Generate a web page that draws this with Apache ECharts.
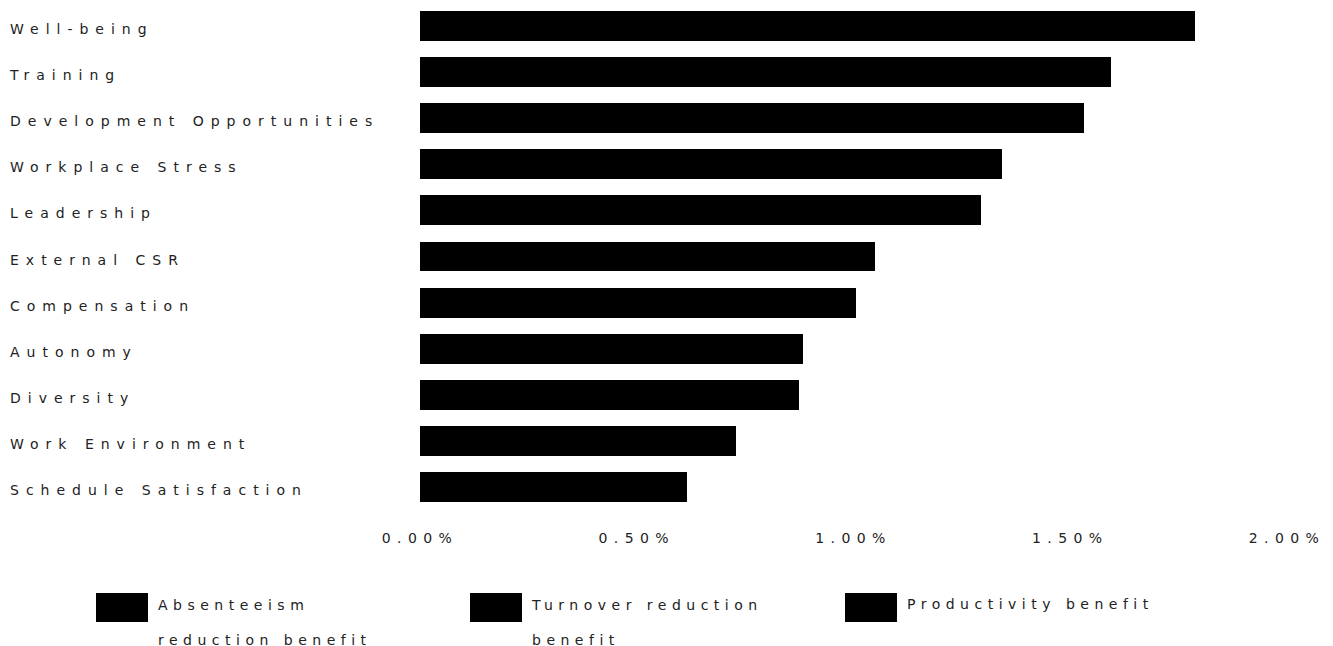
<!DOCTYPE html>
<html>
<head>
<meta charset="utf-8">
<script src="https://cdn.jsdelivr.net/npm/echarts@6/dist/echarts.min.js"></script>
<style>
html,body{margin:0;padding:0;background:#fff;}
#chart{width:1333px;height:646px;}
#chart text{letter-spacing:7px;}
#chart path{shape-rendering:crispEdges;}
</style>
</head>
<body>
<div id="chart"></div>
<script>
const categories = ["Well-being","Training","Development Opportunities","Workplace Stress","Leadership","External CSR","Compensation","Autonomy","Diversity","Work Environment","Schedule Satisfaction"];
const absenteeism = [0.35,0.30,0.28,0.33,0.24,0.18,0.16,0.17,0.15,0.14,0.12];
const turnover    = [0.52,0.48,0.47,0.38,0.40,0.33,0.34,0.26,0.27,0.22,0.19];
const productivity= [0.918,0.814,0.782,0.633,0.654,0.54,0.506,0.454,0.454,0.369,0.306];
const seriesNames = ["Absenteeism reduction benefit","Turnover reduction benefit","Productivity benefit"];
const legendLines = [["Absenteeism","reduction benefit"],["Turnover reduction","benefit"],["Productivity benefit"]];
const xTicks = [0,0.5,1,1.5,2];

const chart = echarts.init(document.getElementById('chart'), null, {renderer:'svg'});
const font = 'DejaVu Sans';
const txt = '#222';
const legendLeft = [96,470,845];
const values = [absenteeism, turnover, productivity];
const base = {fontFamily:font,fontSize:14,color:txt};
const legends = seriesNames.map((n,i)=>{
  const lines = legendLines[i];
  const two = lines.length > 1;
  return {
    data:[n], left:legendLeft[i], top:593, orient:'horizontal', padding:0,
    itemWidth:52, itemHeight:29, icon:'rect', selectedMode:false,
    itemStyle:{borderWidth:0},
    formatter: ()=> two ? ('{a|'+lines[0]+'}\n{b|'+lines[1]+'}') : ('{c|'+lines[0]+'}'),
    textStyle:Object.assign({}, base, {rich:{
      a:Object.assign({}, base, {padding:[29,0,0,5]}),
      b:Object.assign({}, base, {padding:[21,0,0,5]}),
      c:Object.assign({}, base, {padding:[0,0,7,5]})
    }})
  };
});
chart.setOption({
  animation:false,
  legend: legends,
  grid:{left:420,right:46,top:3,bottom:136,containLabel:false},
  xAxis:{type:'value',min:xTicks[0],max:xTicks[xTicks.length-1],interval:0.5,
    axisLine:{show:false},axisTick:{show:false},splitLine:{show:false},
    axisLabel:Object.assign({}, base, {margin:21, formatter:v=>v.toFixed(2)+'%'})},
  yAxis:{type:'category',data:categories,inverse:true,
    axisLine:{show:false},axisTick:{show:false},splitLine:{show:false},
    axisLabel:Object.assign({}, base, {align:'left',margin:410,
      formatter:v=>'{a|'+v+'}',
      rich:{a:Object.assign({}, base, {padding:[6,0,0,0]})}})},
  series: seriesNames.map((n,i)=>({
    name:n,type:'bar',stack:'total',data:values[i],
    barCategoryGap:'35%',itemStyle:{color:'#000'}
  }))
});
const legendTexts = [].concat(...legendLines);
const tickTexts = xTicks.map(v=>v.toFixed(2)+'%');
function adjustSpacing(){
  document.querySelectorAll('#chart text').forEach(t=>{
    const s = t.textContent.trim();
    if (legendTexts.indexOf(s) >= 0) t.style.letterSpacing = '5.5px';
    else if (tickTexts.indexOf(s) >= 0) t.style.letterSpacing = '6.4px';
  });
}
adjustSpacing();
chart.on('finished', adjustSpacing);
</script>
</body>
</html>
